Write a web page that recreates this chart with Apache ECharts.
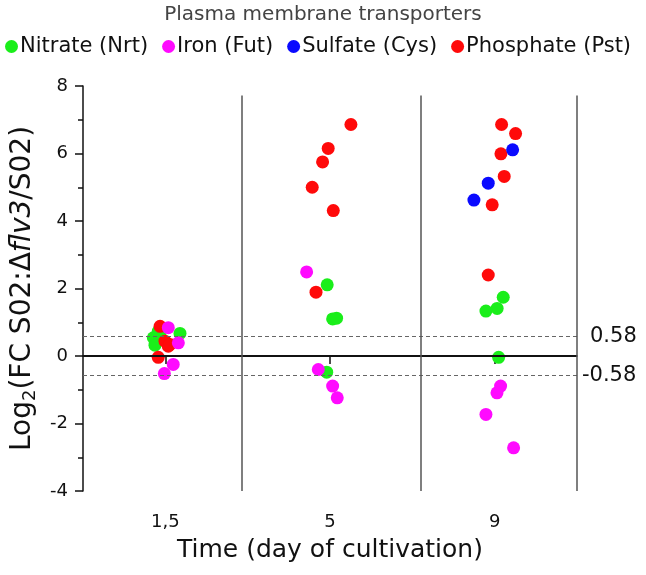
<!DOCTYPE html>
<html><head><meta charset="utf-8">
<script src="https://cdn.jsdelivr.net/npm/echarts@6/dist/echarts.min.js"></script>
<style>html,body{margin:0;padding:0;background:#fff}#c{width:646px;height:575px}</style>
</head><body><div id="c"></div>
<script>
var categories = ['1,5', '5', '9'];
var categoryPos = [1, 2, 3];
var thresholds = [0.58, -0.58];
var dividers = [1.464, 2.549, 3.5];
// [jittered x position, log2 FC]
var nitrate = [[0.957,0.73],[1.089,0.67],[0.927,0.54],[0.968,0.59],[0.937,0.32],
  [1.983,2.11],[2.016,1.10],[2.040,1.12],[1.980,-0.48],
  [3.052,1.74],[3.015,1.41],[2.947,1.33],[3.024,-0.04]];
var phosphate = [[0.968,0.88],[0.998,0.44],[1.018,0.29],[0.957,-0.04],[1.028,0.34],
  [2.127,6.86],[1.989,6.15],[1.955,5.75],[1.892,5.00],[2.020,4.31],[1.915,1.89],
  [3.042,6.86],[3.127,6.59],[3.038,5.99],[3.058,5.32],[2.985,4.48],[2.961,2.40]];
var sulfate = [[3.109,6.11],[2.961,5.12],[2.874,4.62]];
var iron = [[1.018,0.84],[1.079,0.39],[1.048,-0.25],[0.994,-0.52],
  [1.858,2.49],[1.929,-0.40],[2.016,-0.89],[2.044,-1.24],
  [3.036,-0.89],[3.014,-1.09],[2.947,-1.73],[3.115,-2.72]];

var FONT = 'DejaVu Sans, sans-serif';
var chart = echarts.init(document.getElementById('c'));
function sc(name, data, color) {
  return {name: name, type: 'scatter', data: data, symbolSize: 13,
    itemStyle: {color: color, opacity: 1}, z: 3};
}
var s1 = sc('Nitrate (Nrt)', nitrate, '#1AEE1A');
s1.markLine = {
  silent: true, symbol: 'none', animation: false,
  data: [
    [{coord: [0.5, 0], lineStyle: {color: '#111', width: 2, type: 'solid'}, label: {show: false}}, {coord: [3.5, 0]}],
    [{coord: [0.5, thresholds[0]], lineStyle: {color: '#666', width: 1, type: [4, 3]},
      label: {show: true, position: 'end', formatter: '0.58', fontSize: 21, color: '#111', fontFamily: FONT, distance: 13}},
     {coord: [3.5, thresholds[0]]}],
    [{coord: [0.5, thresholds[1]], lineStyle: {color: '#666', width: 1, type: [4, 3]},
      label: {show: true, position: 'end', formatter: '-0.58', fontSize: 21, color: '#111', fontFamily: FONT, distance: 5}},
     {coord: [3.5, thresholds[1]]}]
  ].concat(dividers.map(function (d) {
    return [{coord: [d, -4], lineStyle: {color: '#555', width: 1.5, type: 'solid'}, label: {show: false}}, {coord: [d, 7.72]}];
  }))
};
var option = {
  animation: false,
  textStyle: {fontFamily: FONT},
  title: {text: 'Plasma membrane transporters', left: 'center', top: 0,
    textStyle: {fontSize: 20, fontWeight: 'normal', color: '#444', fontFamily: FONT}},
  legend: {
    data: ['Nitrate (Nrt)', 'Iron (Fut)', 'Sulfate (Cys)', 'Phosphate (Pst)'],
    left: 0, top: 31, icon: 'circle', itemWidth: 13, itemHeight: 13, itemGap: 14,
    textStyle: {fontSize: 21, color: '#111', fontFamily: FONT, padding: [0, 0, 0, -3]}
  },
  grid: {left: 83, right: 69, top: 86, bottom: 84},
  xAxis: {
    type: 'value', min: 0.5, max: 3.5,
    name: 'Time (day of cultivation)', nameLocation: 'middle', nameGap: 47,
    nameTextStyle: {fontSize: 25, color: '#111', fontFamily: FONT},
    axisLine: {lineStyle: {color: '#111', width: 1.5}},
    axisTick: {show: true, length: 8, customValues: categoryPos, lineStyle: {color: '#111', width: 1.5}},
    axisLabel: {customValues: categoryPos, fontSize: 18, color: '#111', margin: 22,
      formatter: function (v) { return categories[categoryPos.indexOf(v)] || ''; }},
    splitLine: {show: false}
  },
  yAxis: {
    type: 'value', min: -4, max: 8, interval: 2,
    name: '{a|Log}{s|2}{a|(FC S02:Δ}{i|flv3}{a|/S02)}', nameLocation: 'middle', nameGap: 40,
    nameTextStyle: {fontSize: 28, color: '#111', fontFamily: FONT,
      rich: {a: {fontSize: 28, color: '#111', fontFamily: FONT},
             i: {fontSize: 28, color: '#111', fontFamily: FONT, fontStyle: 'italic'},
             s: {fontSize: 18, color: '#111', fontFamily: FONT, padding: [14, 0, 0, 0]}}},
    axisLine: {show: true, lineStyle: {color: '#111', width: 1.5}},
    axisTick: {show: true, length: 8, lineStyle: {color: '#111', width: 1.5}},
    minorTick: {show: true, splitNumber: 2, length: 5, lineStyle: {color: '#111', width: 1.5}},
    axisLabel: {fontSize: 18, color: '#111', margin: 15},
    splitLine: {show: false}
  },
  series: [s1, sc('Phosphate (Pst)', phosphate, '#FF0A0A'), sc('Sulfate (Cys)', sulfate, '#0A0AFF'), sc('Iron (Fut)', iron, '#FF0AFF')]
};
chart.setOption(option);
</script>
</body></html>
